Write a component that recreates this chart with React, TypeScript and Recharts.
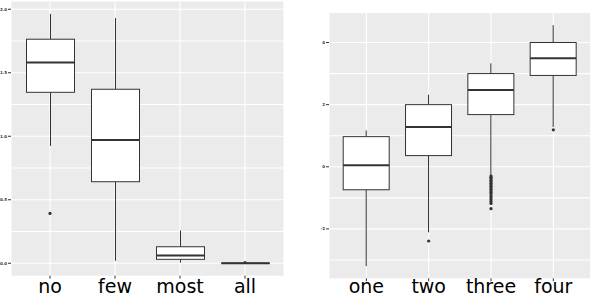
import { ComposedChart, Bar, Scatter, XAxis, YAxis, CartesianGrid } from "recharts";

// left panel
const leftCats = ["no", "few", "most", "all"];
const leftLow = [0.924, 0.02, 0.005, 0];
const leftQ1 = [1.346, 0.642, 0.031, 0];
const leftMed = [1.58, 0.971, 0.062, 0];
const leftQ3 = [1.764, 1.37, 0.13, 0.001];
const leftHigh = [1.963, 1.93, 0.258, 0.002];
const leftOutCats = ["no", "all"];
const leftOutVals = [0.392, 0.006];
const leftTicks = [0, 0.5, 1, 1.5, 2];
const leftGrid = [0, 0.25, 0.5, 0.75, 1, 1.25, 1.5, 1.75, 2];

// right panel
const rightCats = ["one", "two", "three", "four"];
const rightLow = [-3.2, -2.11, -0.28, 1.28];
const rightQ1 = [-0.74, 0.36, 1.68, 2.94];
const rightMed = [0.05, 1.28, 2.47, 3.49];
const rightQ3 = [0.97, 2.0, 3.0, 4.0];
const rightHigh = [1.17, 2.32, 3.33, 4.56];
const rightOutCats = [
  "two", "four",
  "three", "three", "three", "three", "three", "three", "three", "three",
  "three", "three", "three", "three", "three", "three", "three", "three",
  "three", "three", "three",
];
const rightOutVals = [
  -2.39, 1.19,
  -0.3, -0.34, -0.38, -0.43, -0.48, -0.53, -0.58, -0.63,
  -0.68, -0.73, -0.78, -0.83, -0.88, -0.94, -1.0, -1.06,
  -1.12, -1.18, -1.35,
];
const rightTicks = [-2, 0, 2, 4];
const rightGrid = [-3, -2, -1, 0, 1, 2, 3, 4];

const LINE = "#333333";

function buildRows(cats: string[], low: number[], q1: number[], med: number[], q3: number[], high: number[]) {
  return cats.map((cat, i) => ({
    cat,
    range: [low[i], high[i]],
    low: low[i],
    q1: q1[i],
    med: med[i],
    q3: q3[i],
    high: high[i],
  }));
}

function buildOutliers(cats: string[], vals: number[]) {
  return cats.map((cat, i) => ({ cat, value: vals[i] }));
}

function BoxShape(props: any) {
  const { x, y, width, height, payload } = props;
  if (x == null || y == null || !payload) return null;
  const top = Math.min(y, y + height);
  const h = Math.abs(height);
  const span = payload.high - payload.low;
  const toY = (v: number) => (span === 0 ? top : top + ((payload.high - v) / span) * h);
  const cx = x + width / 2;
  const yQ1 = toY(payload.q1);
  const yQ3 = toY(payload.q3);
  const yMed = toY(payload.med);
  return (
    <g>
      <line x1={cx} x2={cx} y1={top} y2={yQ3} stroke={LINE} strokeWidth={1} />
      <line x1={cx} x2={cx} y1={yQ1} y2={top + h} stroke={LINE} strokeWidth={1} />
      <rect x={x} y={yQ3} width={width} height={Math.max(yQ1 - yQ3, 0)} fill="#ffffff" stroke={LINE} strokeWidth={1} />
      <line x1={x} x2={x + width} y1={yMed} y2={yMed} stroke={LINE} strokeWidth={2} />
    </g>
  );
}

function OutlierDot(props: any) {
  const { cx, cy } = props;
  if (cx == null || cy == null) return null;
  return <circle cx={cx} cy={cy} r={1.6} fill={LINE} />;
}

function makeCatTick(dy: number) {
  return function CatTick(props: any) {
    const { x, y, payload } = props;
    return (
      <text x={x} y={y} dy={dy} textAnchor="middle" fontFamily="DejaVu Sans" fontSize={19} fill="#000">
        {payload.value}
      </text>
    );
  };
}

interface PanelProps {
  rows: any[];
  outliers: any[];
  domain: [number, number];
  ticks: number[];
  grid: number[];
  fmt: (v: number) => string;
  yWidth: number;
  top: number;
  right: number;
  xHeight: number;
  pad: number;
  barSize: number;
  labelDy: number;
}

function Panel({ rows, outliers, domain, ticks, grid, fmt, yWidth, top, right, xHeight, pad, barSize, labelDy }: PanelProps) {
  const CatTick = makeCatTick(labelDy);
  return (
    <ComposedChart width={292} height={294} data={rows} margin={{ top, right, bottom: 0, left: 0 }}>
      <CartesianGrid fill="#ebebeb" stroke="#ffffff" strokeWidth={1.1} horizontalValues={grid} />
      <XAxis
        dataKey="cat"
        type="category"
        allowDuplicatedCategory={false}
        padding={{ left: pad, right: pad }}
        axisLine={false}
        tickSize={3}
        tickMargin={0}
        tickLine={{ stroke: LINE }}
        tick={<CatTick />}
        height={xHeight}
        interval={0}
      />
      <YAxis
        type="number"
        domain={domain}
        allowDataOverflow
        ticks={ticks}
        tickFormatter={fmt}
        axisLine={false}
        tickSize={3}
        tickMargin={1}
        tickLine={{ stroke: LINE }}
        tick={{ fontSize: 4, fill: "#333333", fontFamily: "DejaVu Sans", fontWeight: "bold" }}
        width={yWidth}
      />
      <Bar dataKey="range" barSize={barSize} shape={<BoxShape />} isAnimationActive={false} />
      <Scatter data={outliers} dataKey="value" shape={<OutlierDot />} isAnimationActive={false} />
    </ComposedChart>
  );
}

export default function App() {
  const leftRows = buildRows(leftCats, leftLow, leftQ1, leftMed, leftQ3, leftHigh);
  const rightRows = buildRows(rightCats, rightLow, rightQ1, rightMed, rightQ3, rightHigh);
  return (
    <div style={{ position: "fixed", left: 0, top: 0, width: 592, height: 294, background: "#fff", overflow: "hidden" }}>
      <div style={{ position: "absolute", left: 0, top: 0 }}>
        <Panel
          rows={leftRows}
          outliers={buildOutliers(leftOutCats, leftOutVals)}
          domain={[-0.098, 2.061]}
          ticks={leftTicks}
          grid={leftGrid}
          fmt={(v) => v.toFixed(1)}
          yWidth={11}
          top={1.5}
          right={8}
          xHeight={18.3}
          pad={6.5}
          barSize={48}
          labelDy={14}
        />
      </div>
      <div style={{ position: "absolute", left: 300, top: 0 }}>
        <Panel
          rows={rightRows}
          outliers={buildOutliers(rightOutCats, rightOutVals)}
          domain={[-3.59, 4.95]}
          ticks={rightTicks}
          grid={rightGrid}
          fmt={(v) => String(v)}
          yWidth={29}
          top={13}
          right={1.3}
          xHeight={15.7}
          pad={6.2}
          barSize={46}
          labelDy={11.5}
        />
      </div>
    </div>
  );
}
